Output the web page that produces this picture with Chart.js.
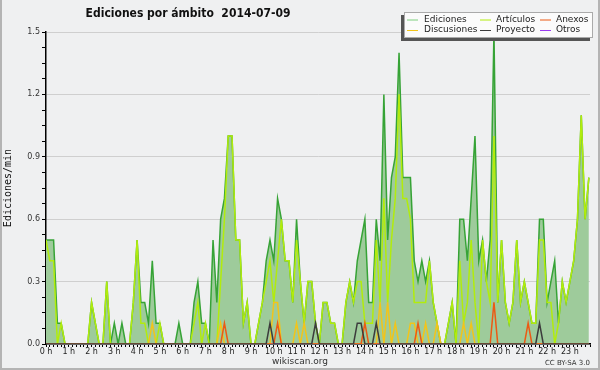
<!DOCTYPE html>
<html>
<head>
<meta charset="utf-8">
<script src="https://cdn.jsdelivr.net/npm/chart.js@4/dist/chart.umd.min.js"></script>
<style>
  html, body { margin: 0; padding: 0; background: #eff0f1; }
</style>
</head>
<body>
<canvas id="myChart" width="600" height="370"></canvas>
<script>
// edits per minute, one value per 10 minute slot (6 per hour, one row = one hour)
var ediciones = [
  .5, .5, .5, .1, .1, 0,
  0, 0, 0, 0, 0, 0,
  .2, .1, 0, 0, .3, 0,
  .1, 0, .1, 0, 0, .2,
  .5, .2, .2, .1, .4, .1,
  .1, 0, 0, 0, 0, .1,
  0, 0, 0, .2, .3, .1,
  .1, 0, .5, .2, .6, .7,
  1, 1, .5, .5, .1, .2,
  0, 0, .1, .2, .4, .5,
  .4, .7, .6, .4, .4, .2,
  .6, .3, .1, .3, .3, .1,
  0, .2, .2, .1, .1, 0,
  0, .2, .3, .2, .4, .5,
  .6, .2, .2, .6, .4, 1.2,
  .5, .8, .9, 1.4, .8, .8,
  .8, .4, .3, .4, .3, .4,
  .2, .1, 0, 0, .1, .2,
  0, .6, .6, .4, .7, 1,
  .4, .5, .3, .5, 1.5, .2,
  .5, .2, .1, .2, .5, .2,
  .3, .2, .1, .1, .6, .6,
  .2, .3, .4, .1, .3, .2,
  .3, .4, .6, 1.1, .6, .8
];
var articulos = [
  .5, .4, .4, 0, .1, 0,
  0, 0, 0, 0, 0, 0,
  .2, .1, 0, 0, .3, 0,
  0, 0, 0, 0, 0, .2,
  .5, .1, .1, 0, 0, 0,
  .1, 0, 0, 0, 0, 0,
  0, 0, 0, .1, .2, 0,
  .1, 0, 0, 0, .3, .6,
  1, 1, .5, .5, .1, .2,
  0, 0, .1, .2, .3, .4,
  .2, .4, .6, .4, .4, .2,
  .5, .3, .1, .3, .3, .1,
  0, .2, .2, .1, .1, 0,
  0, .2, .3, .2, .3, .3,
  .1, .1, .1, .5, .2, .7,
  .2, .5, .7, 1.2, .7, .7,
  .6, .2, .2, .2, .2, .4,
  .2, .1, 0, 0, .1, .2,
  0, .4, .1, .2, .5, .2,
  0, .5, .3, .2, 1, .2,
  .5, .2, .1, .2, .5, .2,
  .3, .2, .1, .1, .5, .5,
  .2, .2, 0, .1, .3, .2,
  .3, .4, .6, 1.1, .6, .8
];
var anexos = [
  0, 0, 0, 0, 0, 0,
  0, 0, 0, 0, 0, 0,
  0, 0, 0, 0, 0, 0,
  0, 0, 0, 0, 0, 0,
  0, 0, 0, 0, 0, 0,
  0, 0, 0, 0, 0, 0,
  0, 0, 0, 0, 0, 0,
  0, 0, 0, 0, 0, .1,
  0, 0, 0, 0, 0, 0,
  0, 0, 0, 0, 0, 0,
  0, .1, 0, 0, 0, 0,
  0, 0, 0, 0, 0, 0,
  0, 0, 0, 0, 0, 0,
  0, 0, 0, 0, 0, 0,
  .1, 0, 0, 0, 0, 0,
  0, 0, 0, 0, 0, 0,
  0, 0, .1, 0, 0, 0,
  0, 0, 0, 0, 0, 0,
  0, 0, 0, 0, 0, 0,
  0, 0, 0, 0, .2, 0,
  0, 0, 0, 0, 0, 0,
  0, .1, 0, 0, 0, 0,
  0, 0, 0, 0, 0, 0,
  0, 0, 0, 0, 0, 0
];
var discusiones = [
  0, 0, 0, 0, 0, 0,
  0, 0, 0, 0, 0, 0,
  0, 0, 0, 0, 0, 0,
  0, 0, 0, 0, 0, 0,
  0, 0, 0, 0, .1, 0,
  0, 0, 0, 0, 0, 0,
  0, 0, 0, 0, 0, 0,
  0, 0, 0, 0, .1, 0,
  0, 0, 0, 0, 0, 0,
  0, 0, 0, 0, 0, 0,
  .2, .2, 0, 0, 0, 0,
  .1, 0, .1, 0, 0, 0,
  0, 0, 0, 0, 0, 0,
  0, 0, 0, 0, 0, 0,
  0, 0, 0, 0, .2, 0,
  .2, 0, .1, 0, 0, 0,
  .1, .1, 0, 0, .1, 0,
  0, .1, 0, 0, 0, 0,
  0, 0, .1, 0, .1, 0,
  0, 0, 0, 0, 0, 0,
  0, 0, 0, 0, 0, 0,
  0, 0, 0, 0, 0, 0,
  0, 0, 0, 0, 0, 0,
  0, 0, 0, 0, 0, 0
];
var proyecto = [
  0, 0, 0, 0, 0, 0,
  0, 0, 0, 0, 0, 0,
  0, 0, 0, 0, 0, 0,
  0, 0, 0, 0, 0, 0,
  0, 0, 0, 0, 0, 0,
  0, 0, 0, 0, 0, 0,
  0, 0, 0, 0, 0, 0,
  0, 0, 0, 0, 0, 0,
  0, 0, 0, 0, 0, 0,
  0, 0, 0, 0, 0, .1,
  0, 0, 0, 0, 0, 0,
  0, 0, 0, 0, 0, .1,
  0, 0, 0, 0, 0, 0,
  0, 0, 0, 0, .1, .1,
  0, 0, 0, .1, 0, 0,
  0, 0, 0, 0, 0, 0,
  0, 0, 0, 0, 0, 0,
  0, 0, 0, 0, 0, 0,
  0, 0, 0, 0, 0, 0,
  0, 0, 0, 0, 0, 0,
  0, 0, 0, 0, 0, 0,
  0, 0, 0, 0, .1, 0,
  0, 0, 0, 0, 0, 0,
  0, 0, 0, 0, 0, 0
];
var otros = new Array(144).fill(0);

var slotsPerHour = 6;
var yMajor = 0.3;
var yMinor = 0.075;

function pts(arr) {
  return arr.map(function (v, i) { return { x: i, y: v }; });
}

function line(label, data, color, order, extra) {
  return Object.assign({
    label: label,
    data: pts(data),
    borderColor: color,
    backgroundColor: color,
    borderWidth: 1.5,
    pointRadius: 0,
    tension: 0,
    fill: false,
    order: order
  }, extra || {});
}

var deco = {
  id: 'deco',
  afterDraw: function (chart) {
    var c = chart.ctx;
    c.save();
    // title
    c.fillStyle = '#111';
    c.font = 'bold 12px "DejaVu Sans Condensed", "DejaVu Sans"';
    c.textAlign = 'center';
    c.textBaseline = 'middle';
    c.fillText('Ediciones por ámbito  2014-07-09', 188, 14);

    // legend box with shadow
    c.fillStyle = '#555';
    c.fillRect(401, 15, 189, 26);
    c.fillStyle = '#fbfbfb';
    c.fillRect(404, 12, 189, 26);
    c.strokeStyle = '#aaa';
    c.lineWidth = 1;
    c.strokeRect(404.5, 12.5, 188, 25);
    var lineX = [407, 480, 540];
    var textX = [424, 496, 556];
    var rowY = [19.5, 30];
    c.font = '9px "DejaVu Sans"';
    c.textAlign = 'left';
    chart.data.datasets.forEach(function (ds, k) {
      var col = k % 3, row = Math.floor(k / 3);
      c.strokeStyle = ds.legendColor || ds.borderColor;
      c.lineWidth = 1;
      c.beginPath();
      c.moveTo(lineX[col], rowY[row] + 0.5);
      c.lineTo(lineX[col] + 11, rowY[row] + 0.5);
      c.stroke();
      c.fillStyle = '#222';
      c.fillText(ds.label, textX[col], rowY[row]);
    });

    // footer
    c.fillStyle = '#333';
    c.font = '9px "DejaVu Sans"';
    c.textAlign = 'center';
    c.fillText('wikiscan.org', 300, 362);
    c.font = '7px "DejaVu Sans"';
    c.textAlign = 'right';
    c.fillText('CC BY-SA 3.0', 590, 363);

    // frame
    c.strokeStyle = '#b4b4b4';
    c.lineWidth = 2;
    c.beginPath();
    c.moveTo(1, 0);
    c.lineTo(1, 369);
    c.lineTo(599, 369);
    c.lineTo(599, 0);
    c.stroke();
    c.restore();
  }
};

var ctx = document.getElementById('myChart').getContext('2d');

var config = {
  type: 'line',
  data: {
    datasets: [
      line('Ediciones', ediciones, '#36a336', 10, { fill: 'origin', backgroundColor: '#9ecb9b', legendColor: '#7fd07f' }),
      line('Artículos', articulos, '#b2ec0c', 5),
      line('Anexos', anexos, '#ec5a14', 2),
      line('Discusiones', discusiones, '#f2c41a', 3),
      line('Proyecto', proyecto, '#3c3c3c', 1),
      line('Otros', otros, '#9a3cf0', 8)
    ]
  },
  options: {
    responsive: false,
    animation: false,
    layout: { padding: { top: 32, right: 10, left: 0, bottom: 0 } },
    plugins: {
      legend: { display: false },
      title: { display: false },
      tooltip: { enabled: false }
    },
    scales: {
      x: {
        type: 'linear',
        min: 0,
        max: 143.3,
        z: 1,
        afterFit: function (s) { s.height = 26; },
        border: { color: '#000', width: 1.5 },
        grid: { drawOnChartArea: false, tickLength: 3, color: '#000', tickColor: '#000' },
        ticks: {
          stepSize: 1,
          autoSkip: false,
          maxRotation: 0,
          padding: 0,
          color: '#222',
          font: { family: 'DejaVu Sans', size: 8 },
          callback: function (v) { return v % slotsPerHour === 0 ? (v / slotsPerHour) + ' h' : ''; }
        }
      },
      y: {
        min: 0,
        max: 1.5,
        afterFit: function (s) { s.width = 46; },
        border: { color: '#000', width: 1.5 },
        grid: {
          tickLength: 4,
          tickColor: '#000',
          color: function (c) {
            var k = Math.round(c.tick.value / yMinor);
            return k % 4 === 0 ? '#cfcfcf' : 'rgba(0,0,0,0)';
          }
        },
        ticks: {
          stepSize: yMinor,
          padding: 2,
          color: '#333',
          font: { family: 'DejaVu Sans', size: 8 },
          callback: function (v) {
            var k = Math.round(v / yMinor);
            return k % 4 === 0 ? (k * yMinor).toFixed(1) : '';
          }
        },
        title: {
          display: true,
          text: 'Ediciones/min',
          color: '#111',
          font: { family: 'DejaVu Sans Mono', size: 10 },
          padding: { top: 2, bottom: 0 }
        }
      }
    }
  },
  plugins: [deco]
};

const chart = new Chart(ctx, config);
</script>
</body>
</html>
